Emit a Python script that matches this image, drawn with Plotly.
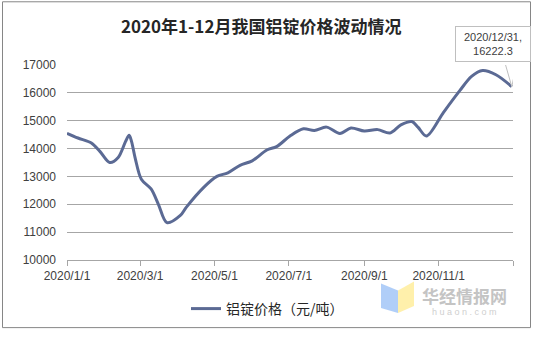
import plotly.graph_objects as go

# ---- data ----
dates = [
    "2020-01-01", "2020-01-10", "2020-01-21", "2020-01-28", "2020-02-05", "2020-02-12",
    "2020-02-18", "2020-02-21", "2020-02-23", "2020-02-26", "2020-03-02", "2020-03-10",
    "2020-03-16", "2020-03-23", "2020-04-03", "2020-04-08", "2020-04-22", "2020-05-03",
    "2020-05-12", "2020-05-22", "2020-06-01", "2020-06-13", "2020-06-21", "2020-07-02",
    "2020-07-13", "2020-07-22", "2020-08-01", "2020-08-12", "2020-08-21", "2020-09-01",
    "2020-09-12", "2020-09-22", "2020-10-01", "2020-10-10", "2020-10-15", "2020-10-22",
    "2020-11-05", "2020-11-18", "2020-11-28", "2020-12-07", "2020-12-18", "2020-12-31",
]
prices = [
    14550, 14380, 14200, 13900, 13500, 13680,
    14250, 14480, 14250, 13650, 12900, 12550,
    12000, 11340, 11600, 11900, 12600, 13000,
    13130, 13400, 13560, 13950, 14070, 14450,
    14710, 14650, 14770, 14540, 14740, 14630,
    14680, 14560, 14850, 14970, 14770, 14450,
    15300, 16060, 16590, 16800, 16650, 16222.3,
]
series_name = "铝锭价格（元/吨）"
title_text = "2020年1-12月我国铝锭价格波动情况"
tick_dates = ["2020-01-01", "2020-03-01", "2020-05-01", "2020-07-01", "2020-09-01", "2020-11-01", "2021-01-01"]
tick_labels = ["2020/1/1", "2020/3/1", "2020/5/1", "2020/7/1", "2020/9/1", "2020/11/1", ""]
y_ticks = [10000, 11000, 12000, 13000, 14000, 15000, 16000, 17000]

LINE = "#5b6a94"
GRID = "#a6a6a6"
TXT = "#404040"

fig = go.Figure()
fig.add_trace(go.Scatter(
    x=dates, y=prices, mode="lines", name=series_name,
    line=dict(color=LINE, width=3, shape="spline", smoothing=0.9),
))

W, H = 533, 337
L, R, T, B = 67, 20, 65, 73
pw, ph = W - L - R, H - T - B

def px(x):
    return (x - L) / pw

def py(y):
    return (H - B - y) / ph

fig.update_layout(
    width=W, height=H,
    margin=dict(l=L, r=R, t=T, b=B),
    paper_bgcolor="white", plot_bgcolor="white",
    font=dict(family="Liberation Sans, Arial, Noto Sans CJK SC", size=12, color=TXT),
    title=dict(
        text=title_text, x=0.49, xanchor="center", y=1 - 27 / H, yanchor="middle",
        font=dict(family="Noto Sans CJK SC", size=17, color="#262626", weight="bold"),
    ),
    showlegend=True,
    legend=dict(
        orientation="h", x=px(186), xanchor="left", y=py(314), yanchor="middle",
        font=dict(family="Noto Sans CJK SC", size=14, color="#262626"),
        bgcolor="rgba(0,0,0,0)", itemwidth=30,
    ),
    xaxis=dict(
        type="date", range=["2020-01-01", "2021-01-01"],
        tickvals=tick_dates, ticktext=tick_labels,
        showgrid=False, showline=True, linecolor=GRID, linewidth=1,
        ticks="outside", ticklen=5, tickcolor=GRID, tickwidth=1,
        tickfont=dict(size=12, color=TXT), zeroline=False, fixedrange=True,
    ),
    yaxis=dict(
        range=[10000, 17000], tickvals=y_ticks, tickformat="d",
        showgrid=True, gridcolor=GRID, gridwidth=1, zeroline=False,
        showline=False, ticks="", ticklabelstandoff=10,
        tickfont=dict(size=12, color=TXT), fixedrange=True,
    ),
)

# outer chart border
fig.add_shape(type="rect", xref="paper", yref="paper",
              x0=px(2.5), x1=px(530.5), y0=py(333), y1=py(0.5),
              line=dict(color="#868686", width=1), fillcolor="rgba(0,0,0,0)", layer="below")

# callout tail, anchored at the last data point
fig.add_shape(type="path", xref="x", yref="y", xsizemode="pixel", ysizemode="pixel",
              xanchor=dates[-1], yanchor=prices[-1],
              path="M -8 28 L 6 28 L 0 0 Z",
              line=dict(color="#bfbfbf", width=1), fillcolor="white", layer="above")

# callout label for the last point
fig.add_annotation(
    x=dates[-1], y=prices[-1], xref="x", yref="y", showarrow=False,
    xanchor="center", yanchor="middle",
    text=f"2020/12/31,<br>{prices[-1]:.1f}",
    xshift=-19, yshift=43,
    font=dict(size=11, color=TXT),
    bgcolor="white", bordercolor="#bfbfbf", borderwidth=1, borderpad=4,
    width=66, align="center",
)

# watermark
fig.add_shape(type="path", xref="paper", yref="paper",
              path=f"M {px(381)} {py(288)} L {px(398)} {py(295)} L {px(398)} {py(318)} L {px(381)} {py(313)} Z",
              line=dict(width=0), fillcolor="rgba(150,190,245,0.75)", layer="above")
fig.add_shape(type="path", xref="paper", yref="paper",
              path=f"M {px(398)} {py(295)} L {px(414)} {py(286)} L {px(414)} {py(311)} L {px(398)} {py(318)} Z",
              line=dict(width=0), fillcolor="rgba(255,236,150,0.8)", layer="above")
fig.add_annotation(xref="paper", yref="paper", x=px(464), y=py(300), showarrow=False,
                   xanchor="center", yanchor="middle", borderpad=0,
                   text="华经情报网", font=dict(family="Noto Sans CJK SC", size=17, color="#c4c4c4", weight="bold"))
fig.add_annotation(xref="paper", yref="paper", x=px(464), y=py(317), showarrow=False,
                   xanchor="center", yanchor="middle", borderpad=0,
                   text="h u a o n . c o m", font=dict(family="Liberation Sans", size=9, color="#cfcfcf"))

fig.write_html("out.html")
